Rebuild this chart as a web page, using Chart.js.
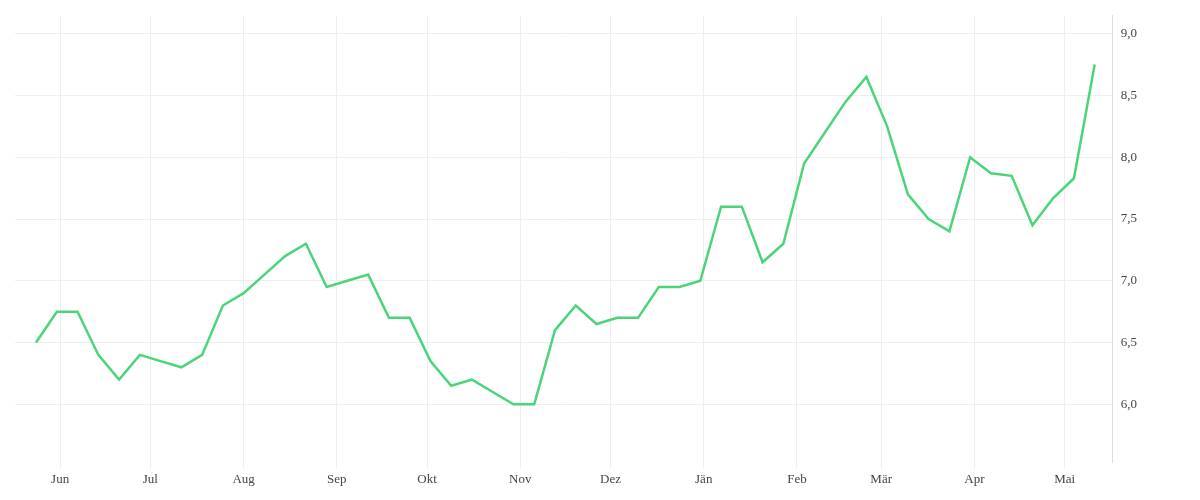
<!DOCTYPE html>
<html><head><meta charset="utf-8">
<script src="https://cdn.jsdelivr.net/npm/chart.js@4"></script>
<style>html,body{margin:0;padding:0;background:#fff}#w{width:1200px;height:500px}</style>
</head><body><div id="w"><canvas id="c"></canvas></div>
<script>
const monthLabels=["Jun","Jul","Aug","Sep","Okt","Nov","Dez","Jän","Feb","Mär","Apr","Mai"];
const monthStartDays=[0,30,61,92,122,153,183,214,245,273,304,334];
const firstDay=-8, stepDays=7;
const values=[6.5,6.75,6.75,6.4,6.2,6.4,6.35,6.3,6.4,6.8,6.9,7.05,7.2,7.3,6.95,7.0,7.05,6.7,6.7,6.35,6.15,6.2,6.1,6.0,6.0,6.6,6.8,6.65,6.7,6.7,6.95,6.95,7.0,7.6,7.6,7.15,7.3,7.95,8.2,8.45,8.65,8.25,7.7,7.5,7.4,8.0,7.87,7.85,7.45,7.67,7.83,8.75];
const yTicks=[6.0,6.5,7.0,7.5,8.0,8.5,9.0];
const pts=values.map((v,i)=>({x:firstDay+i*stepDays*0.986,y:v}));
const font={family:"'Liberation Serif', serif",size:13};
new Chart(document.getElementById('c'),{
 type:'line',
 data:{datasets:[{data:pts,borderColor:'#4cd47a',borderWidth:2.5,pointRadius:0,tension:0,fill:false}]},
 options:{responsive:true,maintainAspectRatio:false,animation:false,
  layout:{padding:{left:15,right:55,top:9,bottom:10}},
  plugins:{legend:{display:false},tooltip:{enabled:false}},
  scales:{
   x:{type:'linear',min:-15,max:350,
    afterBuildTicks:s=>{s.ticks=monthStartDays.map(v=>({value:v}));},
    ticks:{autoSkip:false,maxRotation:0,color:'#444',font,callback:(v)=>monthLabels[monthStartDays.indexOf(v)]},
    grid:{color:'#eeeeee',drawTicks:true,tickLength:6},border:{display:false}},
   y:{position:'right',min:5.53,max:9.145,
    afterBuildTicks:s=>{s.ticks=yTicks.map(v=>({value:v}));},
    ticks:{color:'#444',font,padding:8,callback:v=>v.toFixed(1).replace('.',',')},
    grid:{color:'#eeeeee',drawTicks:false},border:{display:true,color:'#dddddd'}}
  }}
});
</script></body></html>
